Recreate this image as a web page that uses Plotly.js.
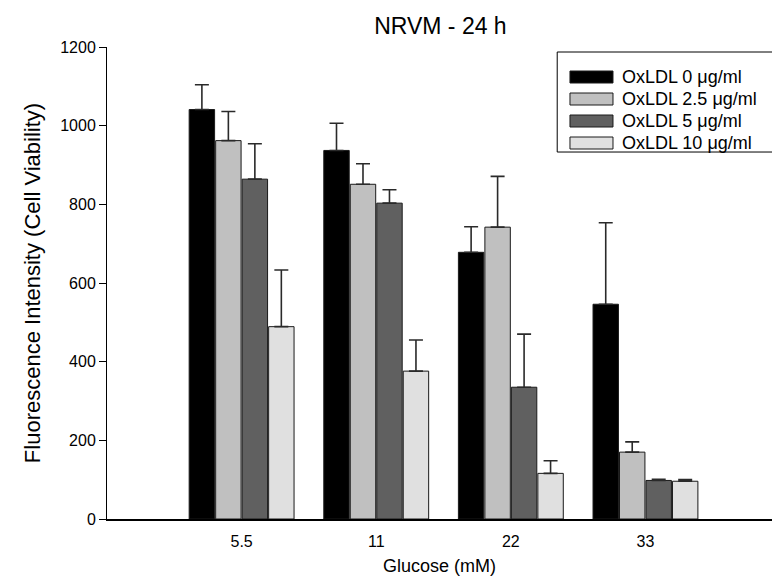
<!DOCTYPE html>
<html>
<head>
<meta charset="utf-8">
<script src="https://cdn.plot.ly/plotly-3.0.1.min.js"></script>
<style>html,body{margin:0;padding:0;background:#fff;}#chart{width:772px;height:581px;}</style>
</head>
<body>
<div id="chart"></div>
<script>
// Data
const categories = ['5.5', '11', '22', '33'];
const seriesNames = ['OxLDL 0 μg/ml', 'OxLDL 2.5 μg/ml', 'OxLDL 5 μg/ml', 'OxLDL 10 μg/ml'];
const ox0 = [1041, 937, 678, 546];
const ox0Err = [63, 69, 65, 207];
const ox25 = [962, 851, 742, 170];
const ox25Err = [74, 52, 129, 26];
const ox5 = [864, 803, 335, 98];
const ox5Err = [90, 34, 135, 3];
const ox10 = [489, 376, 116, 96];
const ox10Err = [144, 79, 32, 4];
const yTicks = [0, 200, 400, 600, 800, 1000, 1200];

const colors = ['#000000', '#c0c0c0', '#606060', '#e0e0e0'];
const values = [ox0, ox25, ox5, ox10];
const errs = [ox0Err, ox25Err, ox5Err, ox10Err];
const xPos = categories.map((c, i) => i + 1);
const FONT = 'Liberation Sans, Arial, sans-serif';

const traces = values.map((v, k) => ({
  type: 'bar',
  name: seriesNames[k],
  x: xPos,
  y: v,
  marker: {color: colors[k], line: {color: '#1a1a1a', width: 1}},
  error_y: {type: 'data', symmetric: false, array: errs[k], arrayminus: v.map(() => 0),
            color: '#2a2a2a', thickness: 1.6, width: 7},
  showlegend: false,
  hoverinfo: 'x+y'
}));

// Custom legend (box, swatches, labels) in paper coords
const lg = {x0: 0.677, x1: 1.01, y0: 0.7775, y1: 0.9894, sx0: 0.6962, sx1: 0.7609, tx: 0.7714};
const rowY = [77, 99, 121, 143].map(p => 1 - (p - 47) / 472);
const shapes = [{type: 'rect', xref: 'paper', yref: 'paper', x0: lg.x0, x1: lg.x1, y0: lg.y0, y1: lg.y1,
                 line: {color: '#000', width: 1}, fillcolor: 'rgba(0,0,0,0)'}];
const annotations = [];
seriesNames.forEach((n, k) => {
  const h = 6 / 472;
  shapes.push({type: 'rect', xref: 'paper', yref: 'paper', x0: lg.sx0, x1: lg.sx1,
               y0: rowY[k] - h, y1: rowY[k] + h, fillcolor: colors[k], line: {color: '#1a1a1a', width: 1}});
  annotations.push({xref: 'paper', yref: 'paper', x: lg.tx, y: rowY[k], xanchor: 'left', yanchor: 'middle',
                    text: n, showarrow: false, font: {family: FONT, size: 18, color: '#000'}});
});

const layout = {
  width: 772, height: 581,
  margin: {l: 107, r: 0, t: 47, b: 62},
  paper_bgcolor: '#fff', plot_bgcolor: '#fff',
  font: {family: FONT, color: '#000'},
  title: {text: 'NRVM - 24 h', font: {size: 23, color: '#000'}, x: 0.5705, xanchor: 'center', y: 0.955, yanchor: 'middle'},
  barmode: 'group', bargap: 0.213, bargroupgap: 0.04,
  xaxis: {
    range: [0, 4.94], tickmode: 'array', tickvals: xPos, ticktext: categories,
    showgrid: false, zeroline: false, showline: true, linecolor: '#000', linewidth: 1.5,
    ticks: '', tickfont: {size: 16}, ticklabelstandoff: 7,
    title: {text: 'Glucose (mM)', font: {size: 18}, standoff: 10}
  },
  yaxis: {
    range: [0, 1200], tickmode: 'array', tickvals: yTicks, ticktext: yTicks.map(String),
    showgrid: false, zeroline: false, showline: true, linecolor: '#000', linewidth: 1,
    ticks: 'outside', ticklen: 7, tickwidth: 1, tickcolor: '#000', tickfont: {size: 16},
    title: {text: 'Fluorescence Intensity (Cell Viability)', font: {size: 22}, standoff: 13}
  },
  shapes: shapes,
  annotations: annotations
};

Plotly.newPlot('chart', traces, layout, {displayModeBar: false, staticPlot: true});
</script>
</body>
</html>
